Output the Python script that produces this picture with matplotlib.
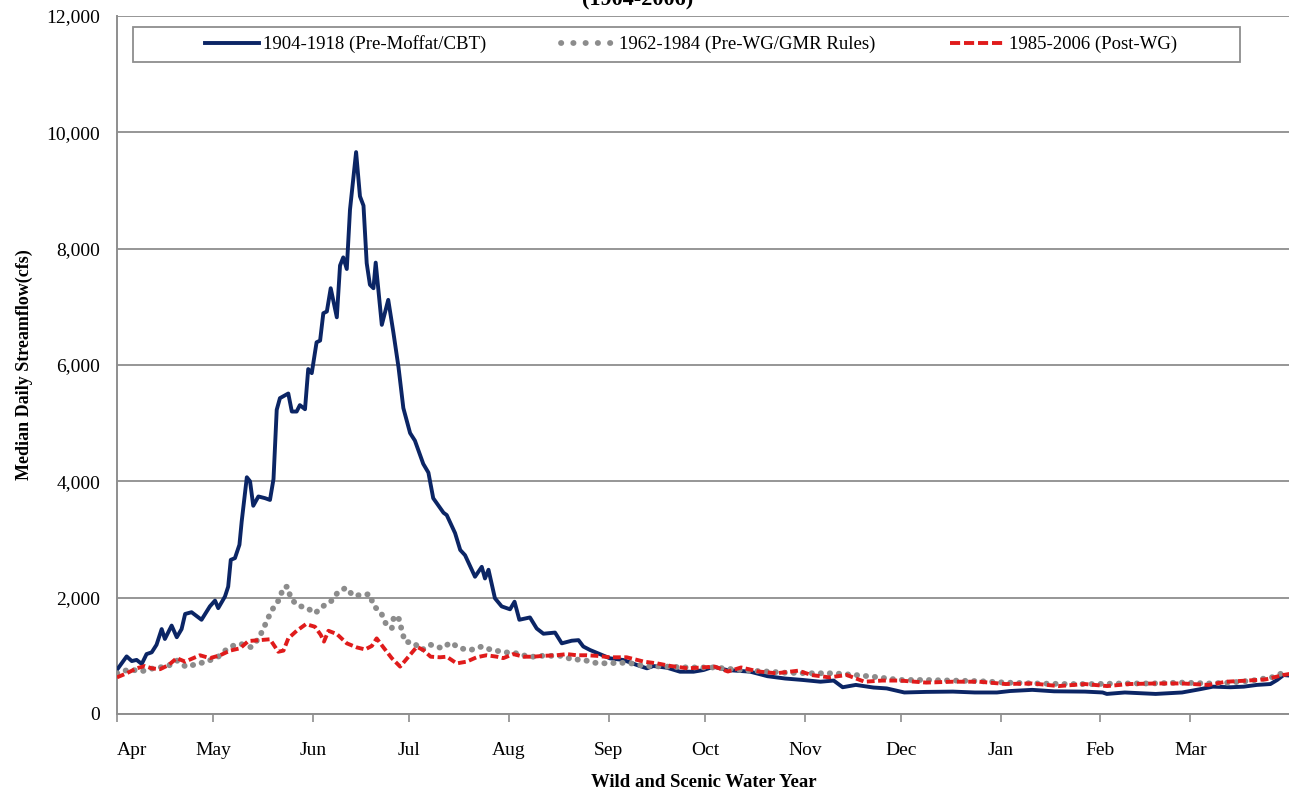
import matplotlib
matplotlib.use("Agg")
import matplotlib.pyplot as plt
from matplotlib.patches import Rectangle
from matplotlib.lines import Line2D

# ---------------- data (day of water year from Apr 1, median daily flow cfs) ----------------
month_labels = ["Apr", "May", "Jun", "Jul", "Aug", "Sep", "Oct", "Nov", "Dec", "Jan", "Feb", "Mar"]
month_days = [0, 30, 61, 91, 122, 153, 183, 214, 244, 275, 306, 334]

pre_moffat_day = [0, 3.0, 4.6, 6.1, 7.7, 9.2, 10.8, 12.3, 13.9, 14.9, 17.0, 18.6, 20.1, 21.2, 23.2,
                  26.3, 28.9, 30.5, 31.5, 33.6, 34.6, 35.4, 36.7, 38.1, 38.8, 40.4, 41.4, 42.4, 44.0,
                  46.1, 47.6, 48.7, 49.7, 50.7, 53.3, 54.4, 55.9, 56.9, 58.5, 59.5, 60.6, 62.1, 63.2,
                  64.2, 65.3, 66.5, 68.4, 69.4, 70.4, 71.5, 72.5, 74.4, 75.6, 76.7, 77.7, 78.7, 79.8,
                  80.5, 82.4, 84.4, 86.0, 87.6, 89.1, 91.2, 92.7, 95.3, 96.9, 98.4, 101.6, 102.6,
                  105.2, 106.8, 108.3, 111.4, 113.5, 114.5, 115.6, 117.6, 119.7, 122.3, 123.7, 125.2,
                  128.5, 130.6, 132.7, 136.3, 138.4, 141.5, 143.6, 145.1, 147.2, 149.8, 153.4, 157.6,
                  161.8, 164.9, 166.9, 171.1, 175.2, 179.4, 182.5, 185.6, 189.8, 197.0, 202.4, 207.9,
                  213.4, 218.9, 223.0, 225.8, 229.9, 235.4, 239.5, 245.0, 251.8, 260.1, 266.9, 273.8,
                  277.9, 284.8, 291.6, 301.2, 306.7, 308.0, 313.6, 323.2, 331.4, 336.9, 341.0, 346.5,
                  350.6, 354.7, 358.9, 361.0, 363.0, 365.0]
pre_moffat_cfs = [760, 990, 910, 930, 860, 1030, 1060, 1190, 1460, 1290, 1520, 1320, 1460, 1720, 1750,
                  1620, 1850, 1950, 1820, 2020, 2190, 2650, 2680, 2910, 3310, 4070, 4000, 3580, 3740,
                  3710, 3680, 4040, 5230, 5430, 5510, 5200, 5200, 5310, 5240, 5930, 5860, 6390, 6420,
                  6890, 6920, 7320, 6820, 7710, 7850, 7650, 8670, 9660, 8900, 8740, 7750, 7380, 7320,
                  7760, 6690, 7120, 6560, 5960, 5260, 4830, 4700, 4300, 4150, 3710, 3460, 3420,
                  3110, 2820, 2730, 2360, 2530, 2330, 2480, 1990, 1850, 1800, 1930, 1620,
                  1660, 1470, 1380, 1400, 1215, 1260, 1270, 1160, 1100, 1040, 957, 928,
                  842, 785, 825, 796, 727, 727, 756, 813, 756, 728, 650, 610,
                  585, 555, 575, 460, 500, 455, 440, 370, 380, 385, 370, 370,
                  395, 415, 390, 385, 370, 345, 370, 345, 370, 425, 470, 460,
                  470, 500, 515, 585, 670, 660]

pre_wg_day = [0, 4.0, 7.4, 12.3, 15.5, 18.6, 21.5, 24.8, 27.9, 31.5, 34.1, 36.7, 38.8, 41.6, 44.0,
              45.5, 47.1, 48.7, 50.5, 51.8, 53.1, 54.1, 56.4, 59.0, 61.6, 64.0, 66.5, 68.7, 71.2,
              73.6, 76.2, 78.7, 79.8, 82.1, 83.6, 85.5, 86.2, 87.8, 88.6, 89.6, 92.2, 94.8, 97.6,
              101.2, 103.8, 106.7, 110.0, 113.5, 116.6, 122.3, 125.4, 128.0, 131.6, 135.3, 138.4,
              141.5, 145.1, 148.8, 152.4, 156.0, 159.1, 164.0, 170.9, 177.7, 186.0, 194.2, 202.4,
              207.9, 216.1, 223.0, 229.9, 235.4, 243.6, 251.8, 260.1, 268.3, 276.5, 286.1, 295.7,
              303.9, 312.2, 321.8, 331.4, 339.6, 346.5, 353.3, 360.2, 364.4]
pre_wg_cfs = [700, 770, 730, 800, 810, 920, 810, 860, 900, 985, 1110, 1190, 1200, 1150, 1290,
              1460, 1660, 1830, 1970, 2180, 2190, 1980, 1860, 1830, 1730, 1850, 1930, 2090, 2170,
              2030, 2050, 2060, 1860, 1750, 1560, 1470, 1690, 1630, 1440, 1240, 1230, 1100, 1190,
              1130, 1230, 1130, 1100, 1160, 1100, 1050, 1040, 975, 1000, 1000, 1000,
              940, 930, 880, 870, 880, 880, 825, 815, 800, 800, 755, 730,
              710, 700, 700, 670, 640, 585, 585, 575, 565, 540, 525, 515,
              515, 525, 525, 540, 525, 540, 575, 640, 755]

post_wg_day = [0, 3.0, 6.1, 8.7, 10.8, 13.4, 16.0, 18.6, 21.2, 25.8, 28.9, 32.1, 35.2, 38.3, 40.9,
               44.5, 47.6, 50.2, 51.8, 53.3, 55.9, 58.8, 61.6, 63.4, 64.4, 65.8, 68.4, 71.5, 74.6,
               77.2, 79.3, 80.8, 82.9, 85.5, 88.1, 90.7, 93.3, 95.3, 97.6, 100.5, 102.6,
               105.7, 108.8, 111.9, 115.0, 118.2, 120.2, 123.3, 126.5, 129.6, 132.7, 136.8, 140.0,
               143.1, 146.2, 149.3, 153.4, 158.6, 164.0, 168.1, 172.3, 177.7, 186.0, 190.1, 194.2,
               199.7, 205.2, 212.0, 216.1, 221.6, 227.1, 232.6, 238.1, 243.6, 251.8, 260.1, 268.3,
               276.5, 284.8, 293.0, 301.2, 308.1, 314.9, 323.2, 331.4, 339.6, 345.1, 351.9, 357.4,
               362.9, 365.0]
post_wg_cfs = [630, 700, 785, 825, 785, 770, 840, 960, 900, 1010, 960, 1010, 1090, 1130, 1255,
               1270, 1285, 1070, 1090, 1300, 1430, 1545, 1500, 1360, 1245, 1430, 1375, 1215, 1145,
               1110, 1170, 1300, 1145, 960, 815, 985, 1155, 1100, 985, 975, 985,
               870, 900, 975, 1010, 985, 960, 1030, 985, 985, 1000, 1010, 1030,
               1010, 1010, 1000, 975, 975, 900, 870, 825, 785, 815, 730, 800,
               730, 700, 745, 670, 630, 670, 555, 575, 575, 540, 555, 555,
               515, 525, 480, 515, 480, 515, 525, 525, 500, 555, 575, 595,
               670, 690]

series_labels = ["1904-1918 (Pre-Moffat/CBT)", "1962-1984 (Pre-WG/GMR Rules)", "1985-2006 (Post-WG)"]
y_ticks = [0, 2000, 4000, 6000, 8000, 10000, 12000]

# ---------------- styling ----------------
plt.rcParams['font.family'] = ['Liberation Serif', 'DejaVu Serif']
NAVY = '#0B2565'
GRAY = '#8C8C8C'
RED = '#E01B1B'
GRID = '#8E8E8E'

fig = plt.figure(figsize=(12.89, 7.93), dpi=100)
ax = fig.add_axes([117 / 1289, 1 - 714 / 793, 1173 / 1289, 698 / 793])

ax.plot(pre_moffat_day, pre_moffat_cfs, color=NAVY, lw=2.8, solid_joinstyle='round',
        solid_capstyle='round', zorder=3)
ax.plot(pre_wg_day, pre_wg_cfs, color=GRAY, lw=4.2, linestyle=(0, (0.05, 1.5)),
        dash_capstyle='round', zorder=3)
ax.plot(post_wg_day, post_wg_cfs, color=RED, lw=2.8, linestyle=(0, (2.0, 0.9)), zorder=4)

ax.set_xlim(0, 365)
ax.set_ylim(0, 12000)
ax.set_yticks(y_ticks)
ax.set_yticklabels([f"{v:,}" for v in y_ticks], fontsize=14)
ax.set_xticks(month_days)
ax.set_xticklabels(month_labels, fontsize=14)
ax.get_xticklabels()[0].set_horizontalalignment('left')
ax.tick_params(axis='y', length=0, pad=12)
ax.tick_params(axis='x', length=6, color=GRID, width=1.2, direction='out', pad=14)

ax.yaxis.grid(True, color=GRID, lw=1.3)
ax.set_axisbelow(True)
for side in ['left', 'bottom']:
    ax.spines[side].set_color(GRID)
    ax.spines[side].set_linewidth(1.4)
ax.spines['top'].set_visible(False)
ax.spines['right'].set_visible(False)

ax.set_ylabel("Median Daily Streamflow(cfs)", fontsize=13, fontweight='bold', labelpad=10)
ax.set_xlabel("Wild and Scenic Water Year", fontsize=13.5, fontweight='bold', labelpad=11)

fig.text(638 / 1289, 1 - 5 / 793, "(1904-2006)", ha='center', va='baseline',
         fontsize=16, fontweight='bold')

# legend box
box = Rectangle((16 / 1173, 1 - 46 / 698), (1240 - 133) / 1173, 35 / 698, transform=ax.transAxes,
                facecolor='white', edgecolor=GRID, lw=1.3, zorder=5)
ax.add_patch(box)
handles = [Line2D([], [], color=NAVY, lw=2.8),
           Line2D([], [], color=GRAY, lw=4.2, linestyle=(0, (0.05, 2.05)), dash_capstyle='round'),
           Line2D([], [], color=RED, lw=2.8, linestyle=(0, (2.6, 1.0)))]
leg = ax.legend(handles, series_labels, loc='center', bbox_to_anchor=(0.489, 1 - 28.5 / 698),
                ncol=3, frameon=False, fontsize=13.5, handlelength=2.9, handletextpad=0.2,
                columnspacing=4.0, borderaxespad=0)
leg.set_zorder(6)

fig.savefig("out.png", dpi=100)
